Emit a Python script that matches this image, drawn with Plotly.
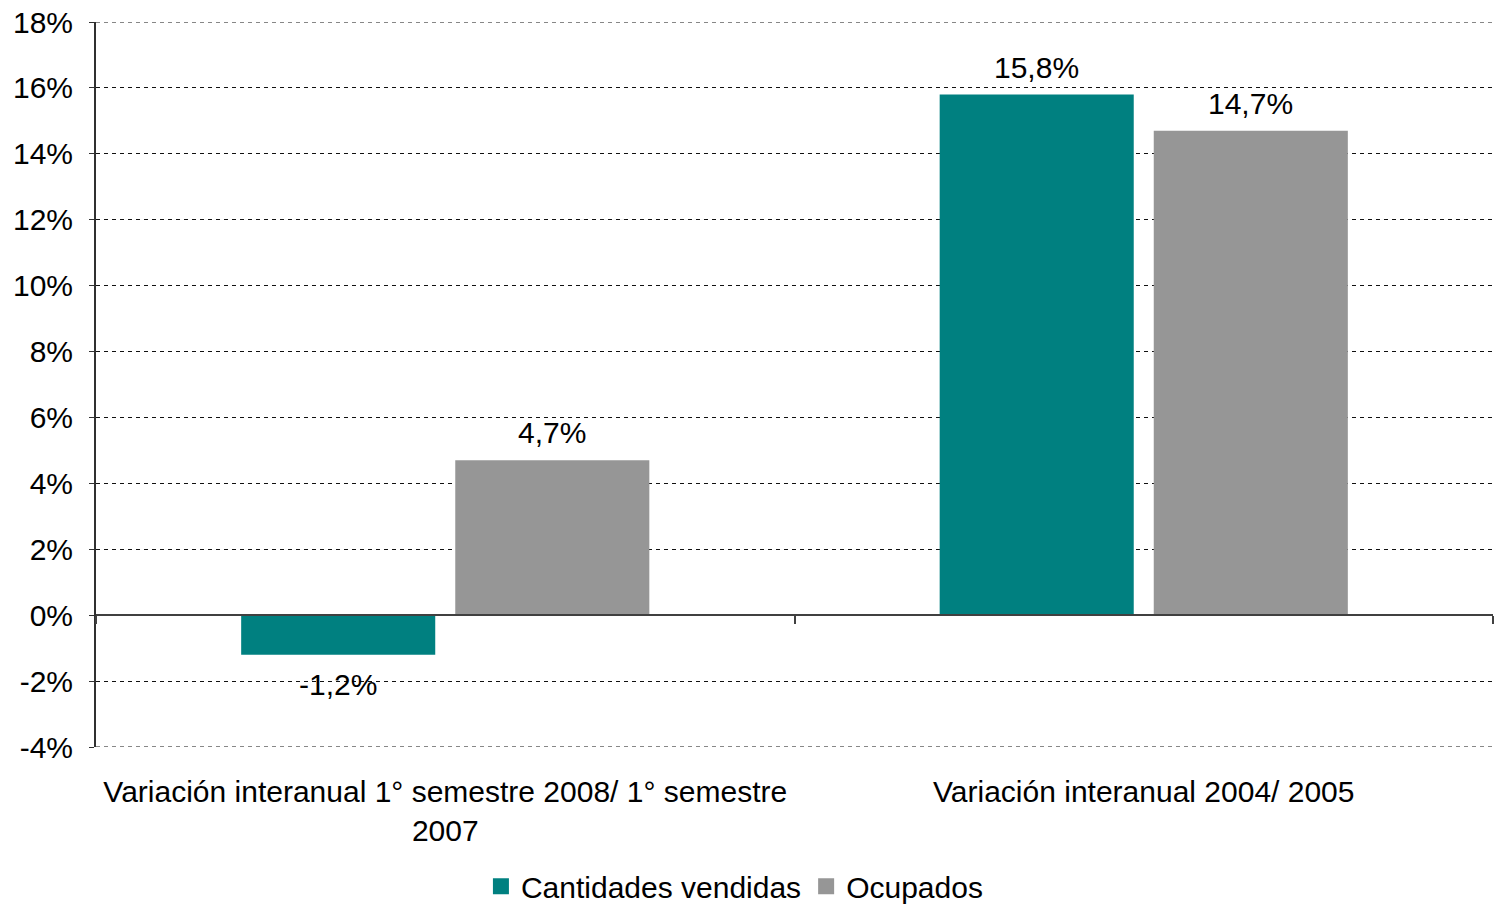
import plotly.graph_objects as go

categories = ["Variación interanual 1° semestre 2008/ 1° semestre<br>2007",
              "Variación interanual 2004/ 2005"]
cantidades = [-1.2, 15.8]
ocupados = [4.7, 14.7]
cant_labels = ["-1,2%", "15,8%"]
ocup_labels = ["4,7%", "14,7%"]
y_ticks = [-4, -2, 0, 2, 4, 6, 8, 10, 12, 14, 16, 18]
y_ticktext = [f"{v}%" for v in y_ticks]
series_names = ["Cantidades vendidas", "Ocupados"]
series_colors = ["#008080", "#969696"]

FONT = "Liberation Sans, Arial, sans-serif"
FS = 30
Y_MIN, Y_MAX = -4, 18
W, H = 1495, 905
ML, MR, MT, MB = 96, 2, 22, 158
BARGAP, BARGROUPGAP = 0.387, 0.0935
GRID_DASH = "4px,4px"
GRID_COLOR = "#111111"

fig = go.Figure()
for vals, name, color in [(cantidades, series_names[0], series_colors[0]),
                          (ocupados, series_names[1], series_colors[1])]:
    fig.add_trace(go.Bar(x=categories, y=vals, name=name, showlegend=False,
                         marker=dict(color=color, line=dict(width=0))))
# legend entries with square swatches
for name, color in zip(series_names, series_colors):
    fig.add_trace(go.Scatter(x=[None], y=[None], mode="markers", name=name,
                             marker=dict(symbol="square", size=19, color=color)))
# invisible trace to drive the zero-line category axis (tick marks at boundaries)
fig.add_trace(go.Scatter(x=categories, y=[0, 0], xaxis="x2", mode="none",
                         showlegend=False, hoverinfo="skip"))

# value labels: anchored at each bar's value, shifted to the bar's slot in the group
plot_w = W - ML - MR
slot_w = plot_w / len(categories) * (1 - BARGAP) / 2
for si, (vals, labels) in enumerate([(cantidades, cant_labels), (ocupados, ocup_labels)]):
    xs = (si - 0.5) * slot_w
    for cat, v, lab in zip(categories, vals, labels):
        fig.add_annotation(x=cat, y=v, text=lab, showarrow=False,
                           xshift=xs, yanchor="bottom" if v >= 0 else "top",
                           yshift=9 if v >= 0 else -11,
                           font=dict(size=FS, family=FONT, color="black"))

# dashed lines at the range edges (plotly omits edge gridlines)
for yv in (Y_MIN, Y_MAX):
    fig.add_shape(type="line", xref="paper", yref="y", x0=0, x1=1, y0=yv, y1=yv,
                  line=dict(color=GRID_COLOR, width=1, dash=GRID_DASH), layer="below")

fig.update_layout(
    width=W, height=H,
    margin=dict(l=ML, r=MR, t=MT, b=MB, autoexpand=False),
    paper_bgcolor="white", plot_bgcolor="white",
    font=dict(family=FONT, size=FS, color="black"),
    barmode="group", bargap=BARGAP, bargroupgap=BARGROUPGAP,
    showlegend=True,
    legend=dict(orientation="h", x=0.457, xanchor="center", y=-0.192, yanchor="middle",
                font=dict(size=FS, family=FONT), itemwidth=30, tracegroupgap=0,
                itemsizing="trace"),
    xaxis=dict(type="category", categoryorder="array", categoryarray=categories,
               showline=False, ticks="", showgrid=False, zeroline=False,
               automargin=False, ticklabelstandoff=24,
               tickfont=dict(size=FS, family=FONT)),
    xaxis2=dict(type="category", categoryorder="array", categoryarray=categories,
                overlaying="x", anchor="free", position=(0 - Y_MIN) / (Y_MAX - Y_MIN), matches="x",
                showline=True, linecolor="#404040", linewidth=2,
                ticks="outside", tickson="boundaries", ticklen=8, tickwidth=2,
                tickcolor="#404040", showticklabels=False, showgrid=False),
    yaxis=dict(range=[Y_MIN, Y_MAX], tickvals=y_ticks, ticktext=y_ticktext,
               showline=True, linecolor="#303030", linewidth=2,
               ticks="outside", ticklen=5, tickcolor="#303030",
               ticklabelstandoff=10, automargin=False,
               showgrid=True, gridcolor=GRID_COLOR, griddash=GRID_DASH, gridwidth=1,
               zeroline=False, tickfont=dict(size=FS, family=FONT)),
)

fig.write_html("out.html", config=dict(displayModeBar=False),
               post_script="document.body.style.margin='0px';"
                           "document.body.style.overflow='hidden';"
                           "document.documentElement.style.overflow='hidden';")
